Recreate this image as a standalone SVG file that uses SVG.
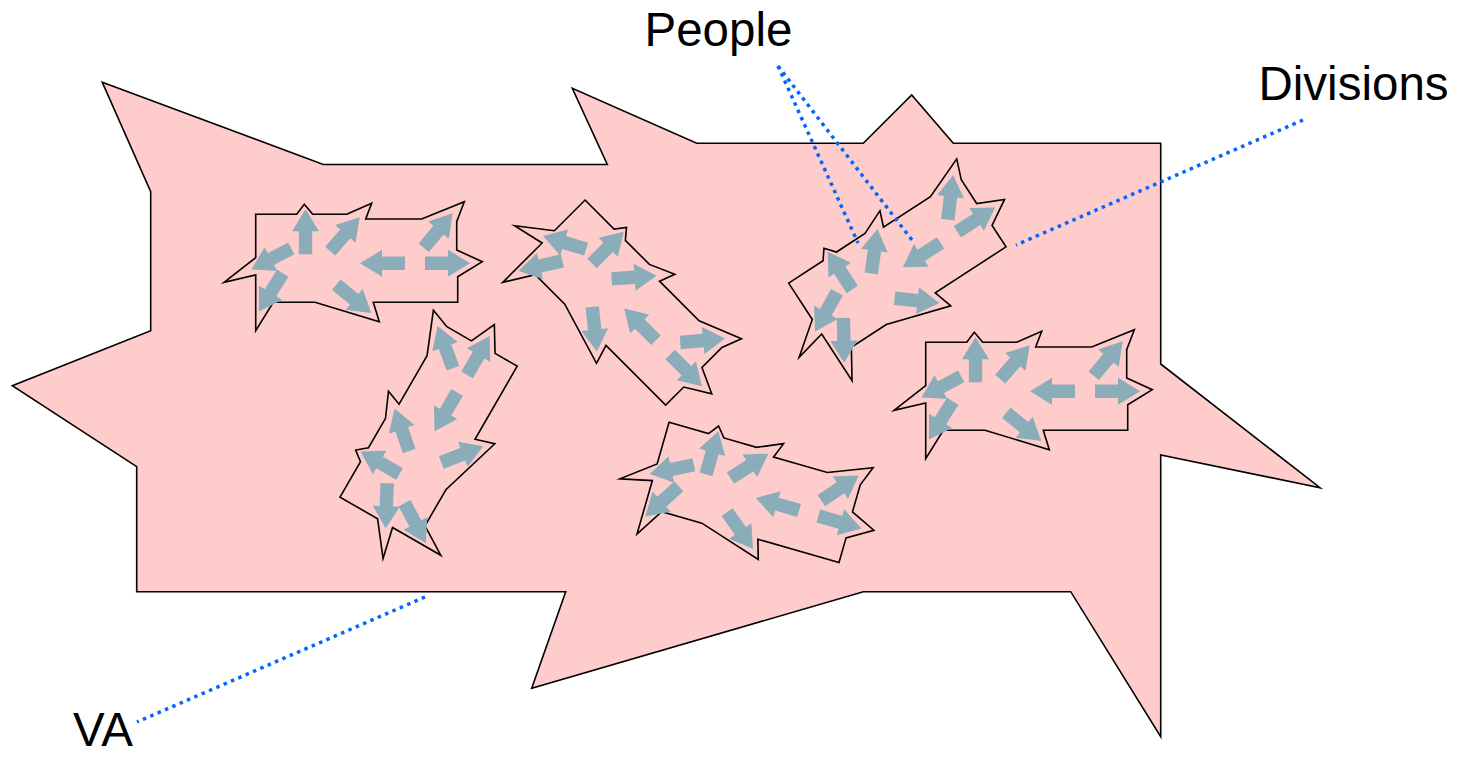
<svg xmlns="http://www.w3.org/2000/svg" width="1466" height="757" viewBox="0 0 1466 757">
  <defs>
    <style>
      .va { fill: #FFCCCC; stroke: #000; stroke-width: 1.6; stroke-linejoin: miter; stroke-miterlimit: 20; }
      .div-outline { fill: #FFCCCC; stroke: #000; stroke-width: 1.6; stroke-linejoin: miter; stroke-miterlimit: 20; }
      .arrow { fill: #8AADB9; }
      .pointer { fill: none; stroke: #0066FF; stroke-width: 3.5; stroke-dasharray: 3.5 4.5; }
      .label { font-family: "Liberation Sans", Arial, sans-serif; font-size: 47.5px; fill: #000; }
    </style>
    <polygon id="arrow" class="arrow" points="0,-6.7 23,-6.7 23,-13.5 45,0 23,13.5 23,6.7 0,6.7"/>
    <g id="division-shape">
      <path class="div-outline" d="M255.7,214.3 L296.7,214.3 L304.3,204.3 L312.7,214.3 L346.7,214.3 L371.7,203.3 L365.7,219 L421.7,219 L464.3,201.7 L456.7,221.7 L456.7,250 L482.3,261.7 L457.7,276.7 L457.7,302.3 L373.3,302.3 L379.3,321.7 L315,302.3 L273.3,302.3 L255.7,330.7 L255.7,275 L224,282.3 L255.7,257.7 Z"/>
      <use href="#arrow" transform="translate(305.5,254.3) rotate(-90)"/>
      <use href="#arrow" transform="translate(330.2,251.2) rotate(-49)"/>
      <use href="#arrow" transform="translate(291.2,248.3) rotate(152)"/>
      <use href="#arrow" transform="translate(282.7,273.3) rotate(122)"/>
      <use href="#arrow" transform="translate(336.3,284.7) rotate(39)"/>
      <use href="#arrow" transform="translate(405,263.3) rotate(180)"/>
      <use href="#arrow" transform="translate(425,263.3)"/>
      <use href="#arrow" transform="translate(423.7,247.7) rotate(-50)"/>
    </g>
  </defs>

  <g id="va">
    <polygon class="va" points="102.3,82.3 323.3,164.5 607.3,164.5 572.3,88.3 696.7,143.3 863.3,143.3 911.7,95 953.3,143.3 1160.7,143.3 1160.7,364 1320,487.7 1160.7,455 1160.7,736.7 1070.7,591.7 863.3,591.7 531.7,688.3 565.7,591.7 136.7,591.7 136.7,466.7 12.3,385.7 150.7,330.7 150.7,191.7"/>
  </g>

  <g id="division-1"><use href="#division-shape"/></g>
  <g id="division-2"><use href="#division-shape" transform="translate(264.1,39.5) rotate(45,353.2,266.2)"/></g>
  <g id="division-3"><use href="#division-shape" transform="translate(80.5,172.4) rotate(-60,353.2,266.2)"/></g>
  <g id="division-4"><use href="#division-shape" transform="translate(545.5,7.3) rotate(-33,353.2,266.2)"/></g>
  <g id="division-5"><use href="#division-shape" transform="translate(670,128)"/></g>
  <g id="division-6"><use href="#division-shape" transform="translate(395.3,232.8) rotate(16,353.2,266.2)"/></g>

  <g id="connectors">
    <line class="pointer" x1="778" y1="66" x2="858" y2="243"/>
    <line class="pointer" x1="778" y1="66" x2="912" y2="240"/>
    <line class="pointer" x1="1303" y1="120" x2="1016" y2="245"/>
    <line class="pointer" x1="425" y1="597" x2="137" y2="722"/>
  </g>

  <g id="label-people"><text class="label" x="644.5" y="46">People</text></g>
  <g id="label-divisions"><text class="label" x="1258.5" y="100">Divisions</text></g>
  <g id="label-va"><text class="label" x="73" y="746">VA</text></g>
</svg>
